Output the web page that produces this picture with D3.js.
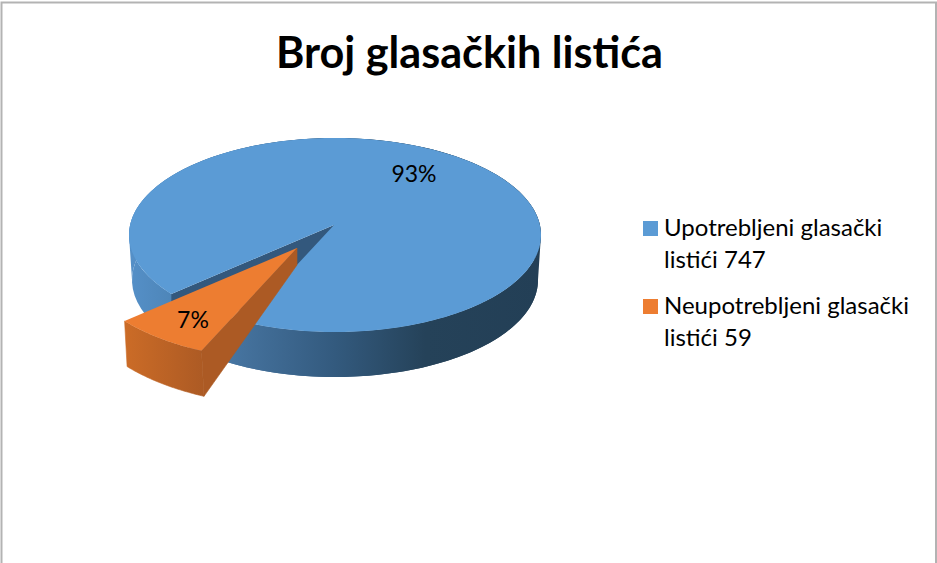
<!DOCTYPE html>
<html><head><meta charset="utf-8">
<style>html,body{margin:0;padding:0;background:#fff}svg{display:block}text{font-family:Lato,"Open Sans",sans-serif;fill:#000}</style>
<script src="https://cdn.jsdelivr.net/npm/d3@7/dist/d3.min.js"></script></head><body><script>
const chartTitle = "Broj glasačkih listića";
const categories = ["Upotrebljeni glasački listići", "Neupotrebljeni glasački listići"];
const values = [747, 59];
const colors = ["#5b9bd5", "#ed7d31"];
const W = 937, H = 563;
const svg = d3.select("body").append("svg").attr("width", W).attr("height", H);
svg.append("rect").attr("x",1.5).attr("y",2.5).attr("width",934.5).attr("height",562).attr("fill","#fff").attr("stroke","#b3b3b3").attr("stroke-width",2);
const defs = svg.append("defs");
function grad(id, x1, x2, stops){
  const g = defs.append("linearGradient").attr("id",id).attr("gradientUnits","userSpaceOnUse").attr("x1",x1).attr("x2",x2).attr("y1",0).attr("y2",0);
  stops.forEach(s=>g.append("stop").attr("offset",s[0]).attr("stop-color",s[1]));
}
grad("blueWall",129,541,[[0,"#5590c8"],[.1,"#4e86b9"],[.28,"#44719c"],[.5,"#335a7e"],[.72,"#254259"],[1,"#233f56"]]);
grad("orangeWall",123,205,[[0,"#cc6c27"],[1,"#ac5a24"]]);

const cx=335, cy=235, rx=206, ry=97, depth=45, shrink=3;
const apex=[334,225];
const pie = d3.pie().sort(null).startAngle(232.6*Math.PI/180).endAngle((232.6+360)*Math.PI/180);
const arcs = pie(values);
const pt=(a,r=rx,q=ry,x0=cx,y0=cy)=>[x0+r*Math.sin(a),y0-q*Math.cos(a)];
const line=d3.line();
const sample=(a0,a1,n=120)=>d3.range(n+1).map(i=>a0+(a1-a0)*i/n);

const blue=arcs[0], orange=arcs[1];
svg.append("path").attr("d",line([...sample(Math.PI/2,orange.startAngle).map(a=>pt(a)),...sample(orange.startAngle,Math.PI/2).map(a=>pt(a,rx-shrink,ry,cx,cy+depth))])+"Z").attr("fill","url(#blueWall)");
svg.append("path").attr("d",line([...sample(orange.endAngle,1.5*Math.PI).map(a=>pt(a)),...sample(1.5*Math.PI,orange.endAngle).map(a=>pt(a,rx-shrink,ry,cx,cy+depth))])+"Z").attr("fill","url(#blueWall)");
const pa=pt(blue.startAngle);
svg.append("path").attr("d",line([apex,pa,[pa[0],pa[1]+depth],[apex[0],apex[1]+depth]])+"Z").attr("fill","#33587d");
svg.append("path").attr("d",line([apex,...sample(blue.startAngle,blue.endAngle,300).map(a=>pt(a))])+"Z").attr("fill",colors[0]);

const oApex=[297,248], k=1.06;
const oPt=a=>{const p=pt(a);return [oApex[0]+k*(p[0]-apex[0]),oApex[1]+k*(p[1]-apex[1])]};
const oArc=sample(orange.startAngle,orange.endAngle,40).map(oPt);
const oDown=p=>[p[0]+2.5,p[1]+45.5];
svg.append("path").attr("d",line([...oArc,...oArc.slice().reverse().map(oDown)])+"Z").attr("fill","url(#orangeWall)").attr("stroke","url(#orangeWall)").attr("stroke-width",0.6);
svg.append("path").attr("d",line([oApex,oArc[0],oDown(oArc[0]),[oApex[0],oApex[1]+17]])+"Z").attr("fill","#ac5a24").attr("stroke","#ac5a24").attr("stroke-width",0.6);
svg.append("path").attr("d",line([oApex,...oArc])+"Z").attr("fill",colors[1]);

const total=d3.sum(values), fmt=d3.format(".0%");
const labelPos=[[414,174],[193,320]];
values.forEach((v,i)=>svg.append("text").attr("x",labelPos[i][0]).attr("y",labelPos[i][1]+8).attr("text-anchor","middle").attr("font-size",23).text(fmt(v/total)));

svg.append("text").attr("x",469.5).attr("y",68).attr("text-anchor","middle").attr("font-size",43.2).attr("font-weight",700).text(chartTitle);

const legendY=[236,314];
categories.forEach((c,i)=>{
  const y=legendY[i];
  svg.append("rect").attr("x",643).attr("y",y-15).attr("width",15).attr("height",15).attr("fill",colors[i]);
  const words=c.split(" ");
  svg.append("text").attr("x",664).attr("y",y).attr("font-size",24).text(words.slice(0,2).join(" "));
  svg.append("text").attr("x",664).attr("y",y+32).attr("font-size",24).text(words[2]+" "+values[i]);
});
</script></body></html>
